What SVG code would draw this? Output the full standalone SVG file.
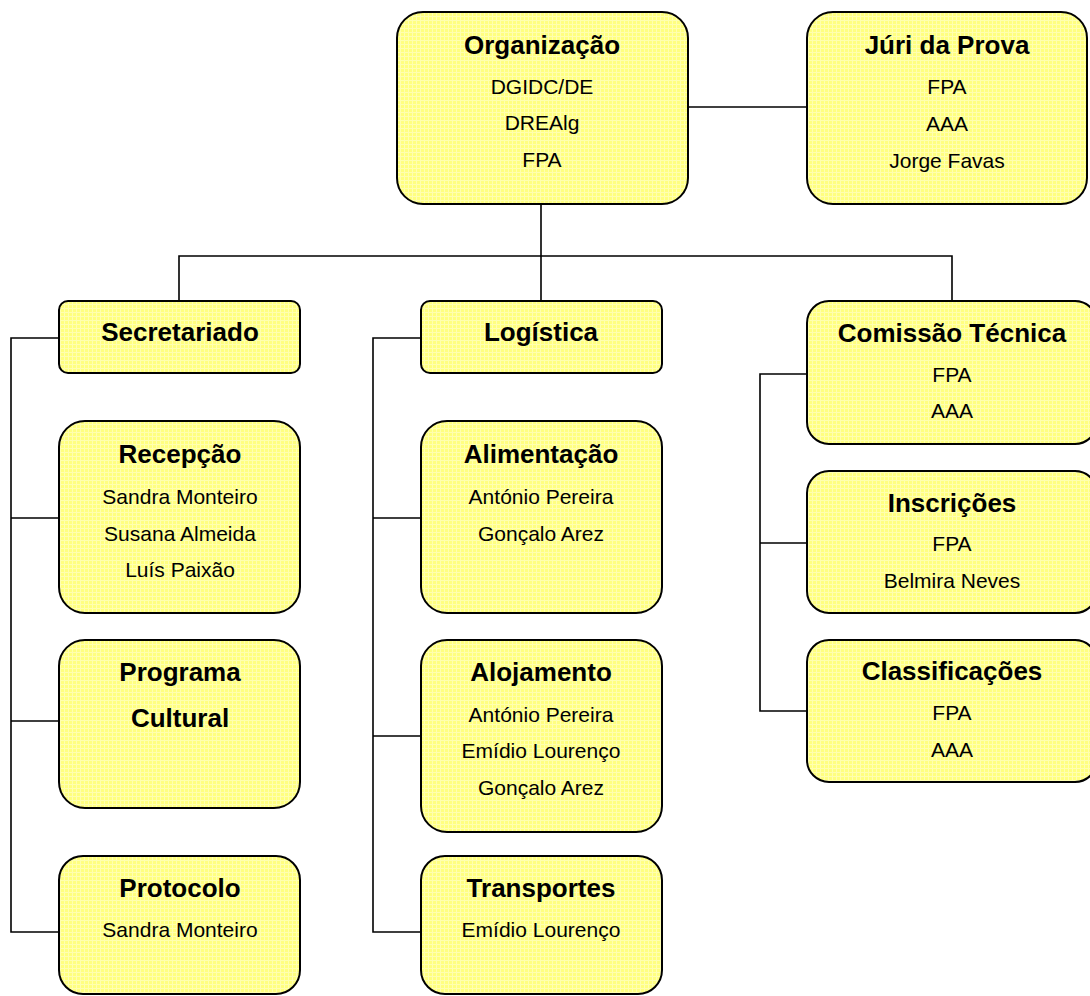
<svg xmlns="http://www.w3.org/2000/svg" width="1090" height="996" viewBox="0 0 1090 996">
<defs>
<pattern id="grid" width="4" height="4" patternUnits="userSpaceOnUse">
<rect width="4" height="4" fill="#ffff80"/>
<path d="M0 0.5H4M0.5 0V4" stroke="#ffffb0" stroke-width="1"/>
</pattern>
<style>
.box{fill:url(#grid);stroke:#000;stroke-width:2}
.t{font-family:"Liberation Sans",Arial,sans-serif;font-weight:bold;font-size:26px;text-anchor:middle;fill:#000}
.b{font-family:"Liberation Sans",Arial,sans-serif;font-size:21px;text-anchor:middle;fill:#000}
.c{fill:none;stroke:#000;stroke-width:1.6}
</style>
</defs>
<rect width="1090" height="996" fill="#fff"/>
<g id="connectors">
<path class="c" d="M688 107H807"/>
<path class="c" d="M541 204V256M179 301V256H952V301M541 256V301"/>
<path class="c" d="M59 338H11V932H59M11 518H59M11 721H59"/>
<path class="c" d="M421 338H373V932H421M373 518H421M373 736H421"/>
<path class="c" d="M807 374H760V711H807M760 543H807"/>
</g>
<g id="organizacao">
<rect class="box" x="397" y="12" width="291" height="192" rx="26"/>
<text class="t" x="542" y="54">Organização</text>
<text class="b" x="542" y="94">DGIDC/DE</text>
<text class="b" x="542" y="130">DREAlg</text>
<text class="b" x="542" y="167">FPA</text>
</g>
<g id="juri">
<rect class="box" x="807" y="12" width="280" height="192" rx="26"/>
<text class="t" x="947" y="54">Júri da Prova</text>
<text class="b" x="947" y="94">FPA</text>
<text class="b" x="947" y="131">AAA</text>
<text class="b" x="947" y="168">Jorge Favas</text>
</g>
<g id="secretariado">
<rect class="box" x="59" y="301" width="241" height="72" rx="9"/>
<text class="t" x="180" y="341">Secretariado</text>
</g>
<g id="logistica">
<rect class="box" x="421" y="301" width="241" height="72" rx="9"/>
<text class="t" x="541" y="341">Logística</text>
</g>
<g id="comissao">
<rect class="box" x="807" y="301" width="290" height="143" rx="22"/>
<text class="t" x="952" y="342">Comissão Técnica</text>
<text class="b" x="952" y="382">FPA</text>
<text class="b" x="952" y="418">AAA</text>
</g>
<g id="recepcao">
<rect class="box" x="59" y="421" width="241" height="192" rx="26"/>
<text class="t" x="180" y="463">Recepção</text>
<text class="b" x="180" y="504">Sandra Monteiro</text>
<text class="b" x="180" y="541">Susana Almeida</text>
<text class="b" x="180" y="577">Luís Paixão</text>
</g>
<g id="programa">
<rect class="box" x="59" y="640" width="241" height="168" rx="26"/>
<text class="t" x="180" y="681">Programa</text>
<text class="t" x="180" y="727">Cultural</text>
</g>
<g id="protocolo">
<rect class="box" x="59" y="856" width="241" height="138" rx="24"/>
<text class="t" x="180" y="897">Protocolo</text>
<text class="b" x="180" y="937">Sandra Monteiro</text>
</g>
<g id="alimentacao">
<rect class="box" x="421" y="421" width="241" height="192" rx="26"/>
<text class="t" x="541" y="463">Alimentação</text>
<text class="b" x="541" y="504">António Pereira</text>
<text class="b" x="541" y="541">Gonçalo Arez</text>
</g>
<g id="alojamento">
<rect class="box" x="421" y="640" width="241" height="192" rx="26"/>
<text class="t" x="541" y="681">Alojamento</text>
<text class="b" x="541" y="722">António Pereira</text>
<text class="b" x="541" y="758">Emídio Lourenço</text>
<text class="b" x="541" y="795">Gonçalo Arez</text>
</g>
<g id="transportes">
<rect class="box" x="421" y="856" width="241" height="138" rx="24"/>
<text class="t" x="541" y="897">Transportes</text>
<text class="b" x="541" y="937">Emídio Lourenço</text>
</g>
<g id="inscricoes">
<rect class="box" x="807" y="471" width="290" height="142" rx="22"/>
<text class="t" x="952" y="512">Inscrições</text>
<text class="b" x="952" y="551">FPA</text>
<text class="b" x="952" y="588">Belmira Neves</text>
</g>
<g id="classificacoes">
<rect class="box" x="807" y="640" width="290" height="142" rx="22"/>
<text class="t" x="952" y="680">Classificações</text>
<text class="b" x="952" y="720">FPA</text>
<text class="b" x="952" y="757">AAA</text>
</g>
</svg>
